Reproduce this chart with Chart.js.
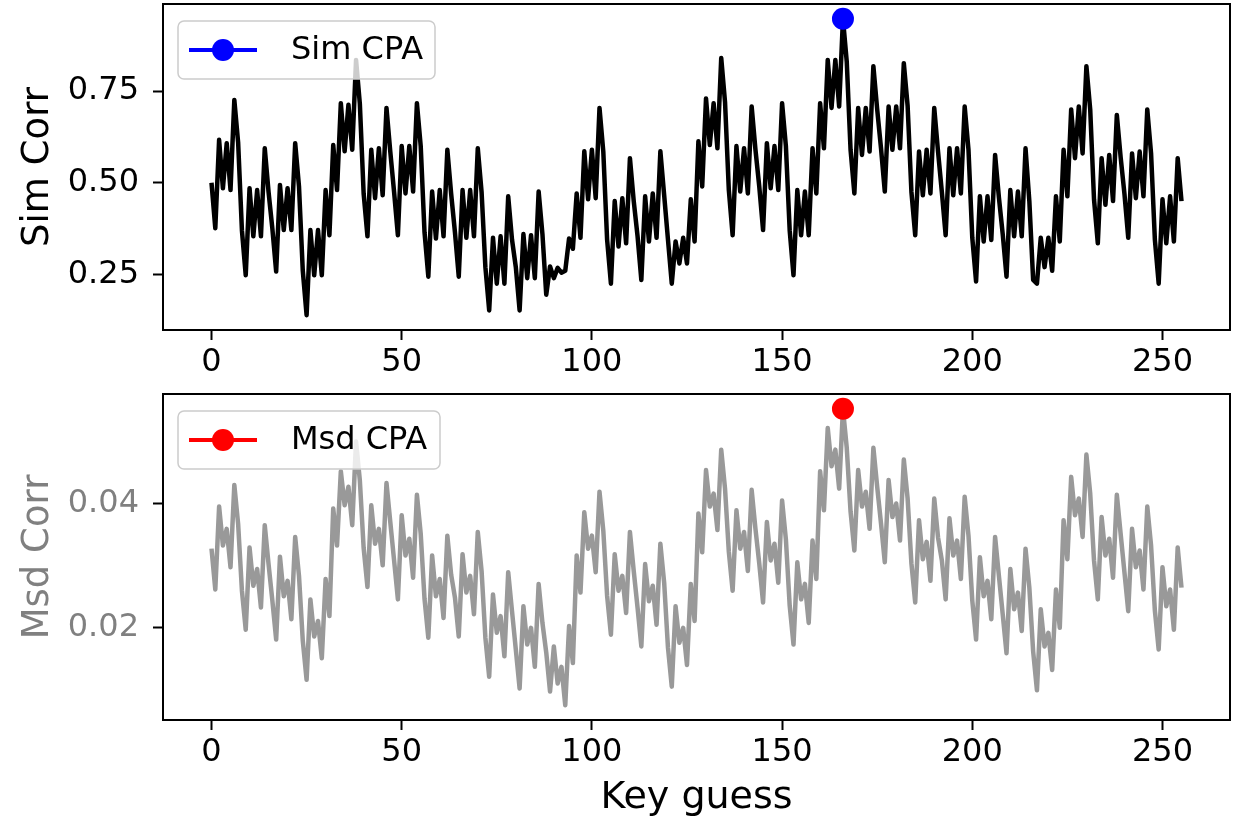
<!DOCTYPE html>
<html>
<head>
<meta charset="utf-8">
<script src="https://cdn.jsdelivr.net/npm/chart.js@4.4.1/dist/chart.umd.min.js"></script>
<style>
  html, body { margin: 0; padding: 0; background: #fff; }
  #wrap { position: relative; width: 1241px; height: 829px; overflow: hidden; }
  canvas { position: absolute; left: 0; }
  #simCanvas { top: -7px; }
  #msdCanvas { top: 383px; }
</style>
</head>
<body>
<div id="wrap">
  <canvas id="simCanvas" width="1241" height="397"></canvas>
  <canvas id="msdCanvas" width="1241" height="446"></canvas>
</div>
<script>
// simulated CPA correlation per key guess (0..255)
const simCorr = [
  0.50, 0.376, 0.617, 0.485, 0.608, 0.48, 0.726, 0.61, 0.37, 0.248,
  0.485, 0.354, 0.48, 0.354, 0.594, 0.475, 0.375, 0.258, 0.494, 0.371,
  0.485, 0.371, 0.608, 0.49, 0.26, 0.139, 0.371, 0.248, 0.371, 0.248,
  0.48, 0.357, 0.603, 0.48, 0.717, 0.586, 0.713, 0.59, 0.835, 0.715,
  0.47, 0.354, 0.59, 0.458, 0.594, 0.466, 0.704, 0.585, 0.475, 0.357,
  0.60, 0.471, 0.60, 0.476, 0.717, 0.60, 0.365, 0.244, 0.476, 0.348,
  0.48, 0.354, 0.59, 0.47, 0.365, 0.244, 0.48, 0.35, 0.48, 0.354,
  0.594, 0.475, 0.27, 0.152, 0.35, 0.225, 0.354, 0.225, 0.463, 0.345,
  0.27, 0.152, 0.36, 0.24, 0.357, 0.24, 0.476, 0.36, 0.195, 0.272,
  0.24, 0.268, 0.255, 0.26, 0.348, 0.32, 0.471, 0.35, 0.586, 0.455,
  0.59, 0.458, 0.704, 0.585, 0.345, 0.225, 0.45, 0.326, 0.458, 0.335,
  0.567, 0.45, 0.355, 0.235, 0.463, 0.34, 0.471, 0.35, 0.586, 0.466,
  0.345, 0.225, 0.34, 0.28, 0.35, 0.28, 0.455, 0.34, 0.613, 0.49,
  0.73, 0.603, 0.717, 0.594, 0.84, 0.72, 0.48, 0.357, 0.60, 0.476,
  0.594, 0.471, 0.708, 0.59, 0.49, 0.371, 0.608, 0.485, 0.60, 0.48,
  0.717, 0.60, 0.37, 0.248, 0.48, 0.357, 0.476, 0.357, 0.594, 0.471,
  0.717, 0.594, 0.835, 0.704, 0.835, 0.708, 0.947, 0.83, 0.59, 0.471,
  0.704, 0.576, 0.704, 0.585, 0.818, 0.70, 0.595, 0.476, 0.708, 0.59,
  0.708, 0.594, 0.826, 0.71, 0.475, 0.357, 0.585, 0.466, 0.59, 0.471,
  0.704, 0.585, 0.475, 0.357, 0.594, 0.466, 0.594, 0.471, 0.708, 0.59,
  0.35, 0.231, 0.463, 0.34, 0.463, 0.344, 0.576, 0.46, 0.36, 0.244,
  0.48, 0.354, 0.476, 0.354, 0.594, 0.45, 0.235, 0.225, 0.35, 0.27,
  0.35, 0.26, 0.463, 0.34, 0.59, 0.463, 0.70, 0.567, 0.708, 0.58,
  0.818, 0.70, 0.455, 0.335, 0.567, 0.44, 0.576, 0.45, 0.685, 0.57,
  0.47, 0.35, 0.58, 0.458, 0.585, 0.463, 0.70, 0.58, 0.345, 0.225,
  0.455, 0.335, 0.463, 0.34, 0.567, 0.45
];

// measured CPA correlation per key guess
const msdCorr = [
  0.0327, 0.0261, 0.0395, 0.0332, 0.0359, 0.0297, 0.0430, 0.0367, 0.0259, 0.0196,
  0.0329, 0.0267, 0.0294, 0.0232, 0.0365, 0.0302, 0.0243, 0.0180, 0.0314, 0.0250,
  0.0275, 0.0213, 0.0346, 0.0283, 0.0178, 0.0115, 0.0245, 0.0185, 0.0210, 0.0150,
  0.0278, 0.0218, 0.0392, 0.0332, 0.0452, 0.0397, 0.0427, 0.0365, 0.0500, 0.0437,
  0.0328, 0.0265, 0.0397, 0.0335, 0.0359, 0.0300, 0.0433, 0.0370, 0.0308, 0.0245,
  0.0381, 0.0316, 0.0343, 0.0280, 0.0414, 0.0351, 0.0246, 0.0183, 0.0316, 0.0250,
  0.0278, 0.0215, 0.0348, 0.0285, 0.0248, 0.0185, 0.0318, 0.0256, 0.0283, 0.0221,
  0.0354, 0.0291, 0.0183, 0.0120, 0.0253, 0.0191, 0.0218, 0.0153, 0.0289, 0.0226,
  0.0164, 0.0101, 0.0234, 0.0172, 0.0199, 0.0136, 0.0270, 0.0207, 0.0159, 0.0096,
  0.0169, 0.0109, 0.0136, 0.0074, 0.0202, 0.0142, 0.0316, 0.0256, 0.0386, 0.0327,
  0.0348, 0.0289, 0.0419, 0.0356, 0.0251, 0.0188, 0.0318, 0.0259, 0.0283, 0.0223,
  0.0354, 0.0291, 0.0232, 0.0169, 0.0302, 0.0242, 0.0267, 0.0204, 0.0335, 0.0272,
  0.0167, 0.0104, 0.0234, 0.0175, 0.0199, 0.0139, 0.0270, 0.0210, 0.0384, 0.0321,
  0.0454, 0.0395, 0.0416, 0.0357, 0.0487, 0.0424, 0.0322, 0.0259, 0.0389, 0.0327,
  0.0354, 0.0291, 0.0422, 0.0359, 0.0303, 0.0240, 0.0370, 0.0308, 0.0335, 0.0272,
  0.0405, 0.0342, 0.0235, 0.0172, 0.0305, 0.0245, 0.0270, 0.0207, 0.0340, 0.0278,
  0.0452, 0.0389, 0.0522, 0.0460, 0.0487, 0.0424, 0.0553, 0.0490, 0.0387, 0.0324,
  0.0454, 0.0395, 0.0419, 0.0359, 0.0490, 0.0427, 0.0368, 0.0305, 0.0438, 0.0378,
  0.0400, 0.0340, 0.0471, 0.0408, 0.0303, 0.0240, 0.0373, 0.0310, 0.0338, 0.0275,
  0.0408, 0.0345, 0.0308, 0.0245, 0.0376, 0.0316, 0.0340, 0.0278, 0.0411, 0.0348,
  0.0243, 0.0180, 0.0313, 0.0250, 0.0275, 0.0213, 0.0346, 0.0283, 0.0221, 0.0158,
  0.0294, 0.0229, 0.0256, 0.0194, 0.0327, 0.0264, 0.0161, 0.0098, 0.0229, 0.0169,
  0.0191, 0.0131, 0.0261, 0.0199, 0.0373, 0.0310, 0.0443, 0.0381, 0.0408, 0.0346,
  0.0479, 0.0416, 0.0308, 0.0245, 0.0378, 0.0316, 0.0343, 0.0280, 0.0414, 0.0351,
  0.0289, 0.0226, 0.0359, 0.0297, 0.0324, 0.0261, 0.0395, 0.0332, 0.0227, 0.0164,
  0.0297, 0.0234, 0.0261, 0.0196, 0.0329, 0.0264
];

const xTicks = [0, 50, 100, 150, 200, 250];
const simTicks = [0.25, 0.50, 0.75];
const msdTicks = [0.02, 0.04];
const keyGuess = simCorr.map((_, i) => i);

Chart.defaults.font.family = "'DejaVu Sans', sans-serif";
Chart.defaults.color = "#000";

// frame around plot area + matplotlib style legend in upper left
const framePlugin = {
  id: "frame",
  afterDatasetsDraw(chart, args, opts) {
    const { ctx, chartArea: a } = chart;
    ctx.save();
    ctx.strokeStyle = "#000";
    ctx.lineWidth = 2;
    ctx.strokeRect(a.left, a.top, a.right - a.left, a.bottom - a.top);

    // legend box
    const bx = a.left + 15, by = a.top + 17, bw = opts.boxWidth, bh = 58;
    ctx.beginPath();
    ctx.roundRect(bx, by, bw, bh, 6);
    ctx.fillStyle = "rgba(255,255,255,0.8)";
    ctx.fill();
    ctx.strokeStyle = "#cccccc";
    ctx.lineWidth = 1.5;
    ctx.stroke();
    const my = by + bh / 2;
    ctx.beginPath();
    ctx.moveTo(bx + 11, my);
    ctx.lineTo(bx + 79, my);
    ctx.strokeStyle = opts.color;
    ctx.lineWidth = 4;
    ctx.stroke();
    ctx.beginPath();
    ctx.arc(bx + 45, my, 11, 0, Math.PI * 2);
    ctx.fillStyle = opts.color;
    ctx.fill();
    ctx.fillStyle = "#000";
    ctx.font = "32px 'DejaVu Sans', sans-serif";
    ctx.textBaseline = "middle";
    ctx.fillText(opts.label, bx + 113, my + 1);
    ctx.restore();
  }
};

function range(values) {
  const lo = Math.min(...values), hi = Math.max(...values);
  const pad = (hi - lo) * 0.05;
  return [lo - pad, hi + pad];
}

function makeChart(id, values, lineColor, markColor, label, yTicks, yTitle, yColor, showXTitle, xHeight, boxWidth) {
  const peak = values.indexOf(Math.max(...values));
  const [ymin, ymax] = range(values);
  const xPad = (keyGuess.length - 1) * 0.05;
  return new Chart(document.getElementById(id), {
    type: "line",
    data: {
      datasets: [
        {
          label: label,
          data: [{ x: keyGuess[peak], y: values[peak] }],
          showLine: false,
          pointRadius: 11,
          pointBackgroundColor: markColor,
          pointBorderWidth: 0,
          order: 0
        },
        {
          data: keyGuess.map((k, i) => ({ x: k, y: values[i] })),
          borderColor: lineColor,
          borderWidth: 4.5,
          borderJoinStyle: "round",
          pointRadius: 0,
          tension: 0,
          order: 1
        }
      ]
    },
    options: {
      responsive: false,
      animation: false,
      layout: { padding: { top: 0, right: 11, left: 0, bottom: 0 } },
      plugins: {
        legend: { display: false },
        tooltip: { enabled: false },
        frame: { color: markColor, label: label, boxWidth: boxWidth }
      },
      scales: {
        x: {
          type: "linear",
          min: -xPad,
          max: keyGuess.length - 1 + xPad,
          afterBuildTicks: s => { s.ticks = xTicks.map(v => ({ value: v })); },
          afterFit: s => { s.height = xHeight; s.paddingLeft = 0; s.paddingRight = 0; },
          border: { display: false },
          grid: { drawOnChartArea: false, drawTicks: true, tickLength: 10, tickWidth: 2, tickColor: "#000" },
          ticks: { font: { size: 32 }, color: "#000", padding: 3, maxRotation: 0 },
          title: {
            display: showXTitle,
            text: "Key guess",
            font: { size: 38 },
            color: "#000",
            padding: { top: 2, bottom: 8 }
          }
        },
        y: {
          min: ymin,
          max: ymax,
          afterBuildTicks: s => { s.ticks = yTicks.map(v => ({ value: v })); },
          afterFit: s => { s.width = 163; s.paddingTop = 0; s.paddingBottom = 0; },
          border: { display: false },
          grid: { drawOnChartArea: false, drawTicks: true, tickLength: 10, tickWidth: 2, tickColor: "#000" },
          ticks: { font: { size: 32 }, color: yColor, padding: 14, callback: v => v.toFixed(2) },
          title: {
            display: true,
            text: yTitle,
            font: { size: 37 },
            color: yColor,
            padding: { top: 16, bottom: 0 }
          }
        }
      }
    },
    plugins: [framePlugin]
  });
}

makeChart("simCanvas", simCorr, "#000000", "#0000ff", "Sim CPA", simTicks, "Sim Corr", "#000", false, 60, 257);
makeChart("msdCanvas", msdCorr, "#999999", "#ff0000", "Msd CPA", msdTicks, "Msd Corr", "#808080", true, 109, 262);
</script>
</body>
</html>
